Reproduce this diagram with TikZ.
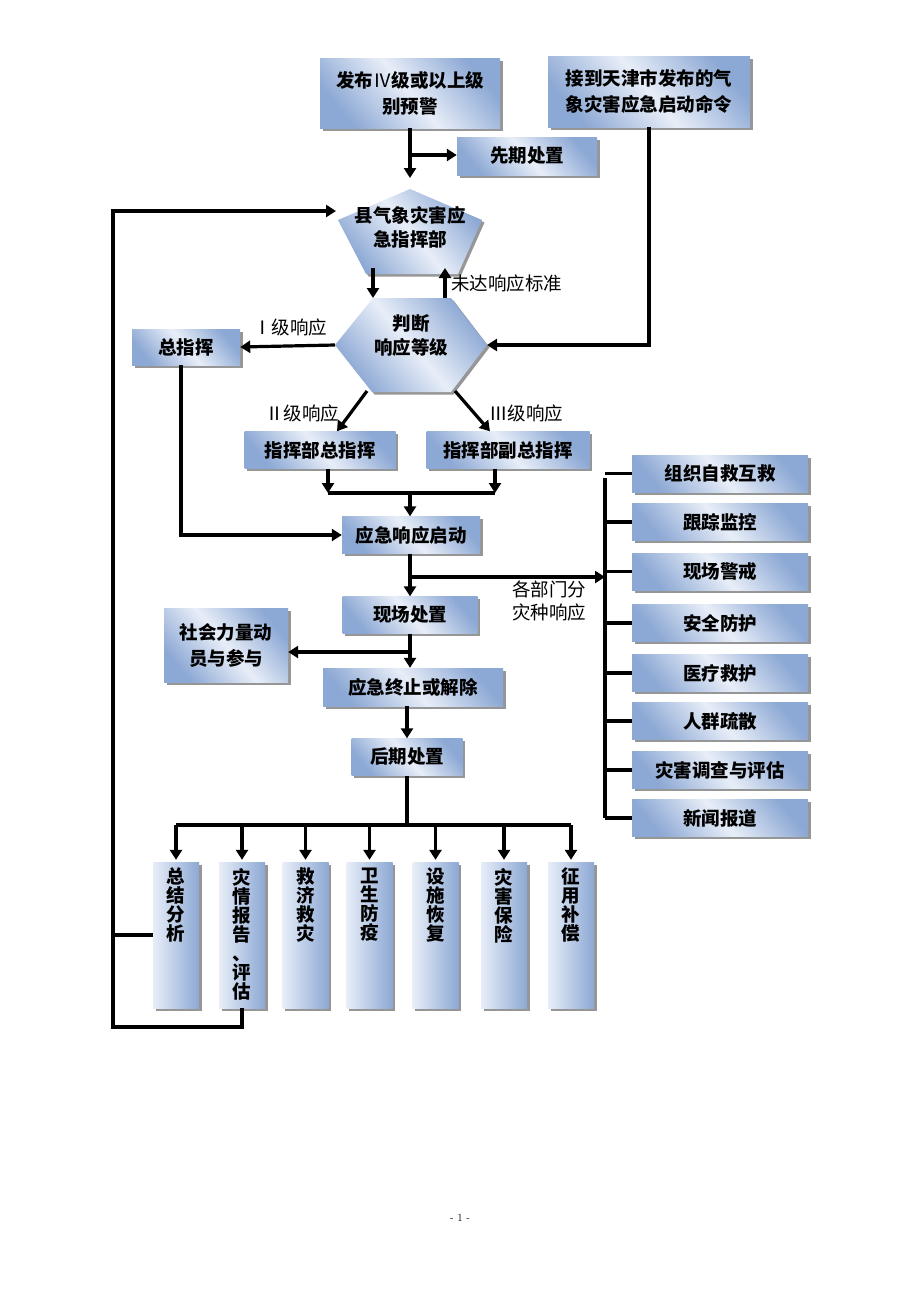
\documentclass[tikz,border=0pt]{standalone}
\usepackage{fontspec}
\newfontfamily\cjk{Noto Sans CJK SC}
\usetikzlibrary{arrows.meta,shadows,calc}
\definecolor{bdark}{RGB}{140,168,212}
\definecolor{blight}{RGB}{232,238,248}
\definecolor{shad}{RGB}{150,150,150}
\begin{document}
\begin{tikzpicture}[x=1pt,y=-1pt,
  grad/.style={top color=bdark,bottom color=bdark,middle color=blight,shading angle=-50},
  box/.style={draw=none,grad,inner sep=0pt,align=center,
    font=\cjk\bfseries\fontsize{18.5}{26}\selectfont,
    drop shadow={shadow xshift=2.5pt,shadow yshift=-2.5pt,fill=shad,opacity=1}},
  vbox/.style={draw=none,left color=blight,right color=bdark,inner sep=0pt,
    minimum width=46pt,minimum height=146pt,
    drop shadow={shadow xshift=2.5pt,shadow yshift=-2.5pt,fill=shad,opacity=1}},
  vtext/.style={inner sep=0pt,align=center,anchor=north,font=\cjk\bfseries\fontsize{18.5}{19}\selectfont},
  rbox/.style={box,minimum width=176pt,minimum height=37pt},
  ptext/.style={inner sep=0pt,align=center,font=\cjk\bfseries\fontsize{18.5}{24}\selectfont},
  lbl/.style={inner sep=0pt,align=center,font=\cjk\fontsize{18.5}{23}\selectfont},
  ln/.style={line width=3.2pt,black},
  arr/.style={line width=3.2pt,black,-{Triangle[length=10pt,width=12pt]}},
]
\useasboundingbox (0,0) rectangle (920,1302);
\fill[white] (0,0) rectangle (920,1302);

% top boxes
\node[box,minimum width=180pt,minimum height=70pt] (warn) at (410,93) {发布{\mdseries Ⅳ}级或以上级\\别预警};
\node[box,minimum width=202pt,minimum height=71pt] (recv) at (649,91.5) {接到天津市发布的气\\象灾害应急启动命令};
\node[box,minimum width=140pt,minimum height=38pt] (pre) at (527,156) {先期处置};

% pentagon
\coordinate (pT) at (410,189);
\coordinate (pR) at (482,220);
\coordinate (pBR) at (458,274);
\coordinate (pBL) at (366,274);
\coordinate (pL) at (338,220);
\fill[shad] ([shift={(2.5,2.5)}]pT) -- ([shift={(2.5,2.5)}]pR) -- ([shift={(2.5,2.5)}]pBR) -- ([shift={(2.5,2.5)}]pBL) -- ([shift={(2.5,2.5)}]pL) -- cycle;
\path[grad] (pT) -- (pR) -- (pBR) -- (pBL) -- (pL) -- cycle;
\node[ptext] (cmd) at (410,227) {县气象灾害应\\急指挥部};

% hexagon
\coordinate (hL) at (335,345);
\coordinate (hTL) at (373,298);
\coordinate (hTR) at (451,298);
\coordinate (hR) at (487,345);
\coordinate (hBR) at (451,392);
\coordinate (hBL) at (372,392);
\fill[shad] ([shift={(2.5,2.5)}]hL) -- ([shift={(2.5,2.5)}]hTL) -- ([shift={(2.5,2.5)}]hTR) -- ([shift={(2.5,2.5)}]hR) -- ([shift={(2.5,2.5)}]hBR) -- ([shift={(2.5,2.5)}]hBL) -- cycle;
\path[grad] (hL) -- (hTL) -- (hTR) -- (hR) -- (hBR) -- (hBL) -- cycle;
\node[ptext] (judge) at (411,335) {判断\\响应等级};

% middle boxes
\node[box,minimum width=108pt,minimum height=36pt] (zong) at (186,347) {总指挥};
\node[box,minimum width=151pt,minimum height=37pt] (zz) at (320,450) {指挥部总指挥};
\node[box,minimum width=163pt,minimum height=37pt] (fz) at (508,450) {指挥部副总指挥};
\node[box,minimum width=138pt,minimum height=37pt] (start) at (411,535) {应急响应启动};
\node[box,minimum width=135pt,minimum height=37pt] (site) at (410,615) {现场处置};
\node[box,minimum width=124pt,minimum height=74pt] (soc) at (226,645) {社会力量动\\员与参与};
\node[box,minimum width=180pt,minimum height=38pt] (term) at (413,687) {应急终止或解除};
\node[box,minimum width=111pt,minimum height=37pt] (post) at (407,757) {后期处置};

% right list
\node[rbox] (r1) at (720,473.5) {组织自救互救};
\node[rbox] (r2) at (720,522) {跟踪监控};
\node[rbox] (r3) at (720,571.5) {现场警戒};
\node[rbox] (r4) at (720,623) {安全防护};
\node[rbox] (r5) at (720,673) {医疗救护};
\node[rbox] (r6) at (720,721) {人群疏散};
\node[rbox] (r7) at (720,770) {灾害调查与评估};
\node[rbox] (r8) at (720,818) {新闻报道};

% vertical boxes
\node[vbox] (v1) at (176,935) {};
\node[vbox] (v2) at (242,935) {};
\node[vbox] (v3) at (305.5,935) {};
\node[vbox] (v4) at (369.5,935) {};
\node[vbox] (v5) at (435.5,935) {};
\node[vbox] (v6) at (504,935) {};
\node[vbox] (v7) at (571,935) {};
\node[vtext] (t1) at ([yshift=-6pt]v1.north) {总\\结\\分\\析};
\node[vtext] (t2) at ([yshift=-6pt]v2.north) {灾\\情\\报\\告\\、\\评\\估};
\node[vtext] (t3) at ([yshift=-6pt]v3.north) {救\\济\\救\\灾};
\node[vtext] (t4) at ([yshift=-6pt]v4.north) {卫\\生\\防\\疫};
\node[vtext] (t5) at ([yshift=-6pt]v5.north) {设\\施\\恢\\复};
\node[vtext] (t6) at ([yshift=-6pt]v6.north) {灾\\害\\保\\险};
\node[vtext] (t7) at ([yshift=-6pt]v7.north) {征\\用\\补\\偿};

% labels
\node[lbl,anchor=west] (l0) at (451,283) {未达响应标准};
\node[lbl] (l1) at (290,327) {Ⅰ级响应};
\node[lbl] (l2) at (302,413) {Ⅱ级响应};
\node[lbl] (l3) at (526,413) {Ⅲ级响应};
\node[lbl] (l4) at (549,601) {各部门分\\灾种响应};
\node[inner sep=0pt,font=\fontsize{11}{12}\selectfont] (pg) at (460,1218) {- 1 -};

% connectors top
\coordinate (wj) at (410,155);
\draw[arr] (warn.south) -- ([yshift=11pt]pT);
\draw[arr] (wj) -- (wj -| pre.west);
\draw[arr] (recv.south) |- (hR);
\draw[arr] (373,268) -- (hTL -| 373,0);
\coordinate (upS) at (445,298);
\coordinate (upE) at (445,268);
\draw[arr] (upS) -- (upE);
\draw[arr] (hL) -- (zong.east);
\coordinate (dlS) at (367,391);
\coordinate (drS) at (455,391);
\draw[arr] (dlS) -- (zz.north -| 337,0);
\draw[arr] (drS) -- (fz.north -| 490,0);

% merge
\coordinate (mL) at (328,493);
\coordinate (mR) at (495,493);
\coordinate (mC) at (410,493);
\draw[arr] (zz.south -| mL) -- (mL);
\draw[arr] (fz.south -| mR) -- (mR);
\draw[ln] (mL) -- (mR);
\draw[arr] (mC) -- (start.north -| mC);
\coordinate (zc) at (181,535);
\draw[arr] (zong.south -| zc) -- (zc) -- (start.west);

% main column
\coordinate (bj) at (410,577);
\coordinate (barT) at (605,478);
\coordinate (barB) at (605,818);
\draw[arr] (start.south -| site.north) -- (site.north);
\draw[arr] (bj) -- (bj -| barT);
\draw[ln] (barT) -- (barB);
\foreach \r in {r1,r2,r3,r4,r5,r6,r7,r8} \draw[ln] (\r.west) -- (\r.west -| barT);
\coordinate (sj) at (410,652);
\draw[arr] (site.south) -- (site.south |- term.north);
\draw[arr] (sj) -- (sj -| soc.east);
\draw[arr] (term.south -| post.north) -- (post.north);

% bottom bus
\coordinate (bus) at (407,825);
\draw[ln] (post.south) -- (bus);
\draw[ln] (bus -| v1.north) -- (bus -| v7.north);
\foreach \v in {v1,v2,v3,v4,v5,v6,v7} \draw[arr] (bus -| \v.north) -- ([yshift=2pt]\v.north);

% loop
\coordinate (loopB) at (113,1027);
\coordinate (loopT) at (113,211);
\coordinate (pIn) at (336,211);
\draw[arr] (v2.south) |- (loopB) -- (loopT) -- (pIn);
\draw[ln] (v1.west) -- (v1.west -| loopB);
\end{tikzpicture}
\end{document}
